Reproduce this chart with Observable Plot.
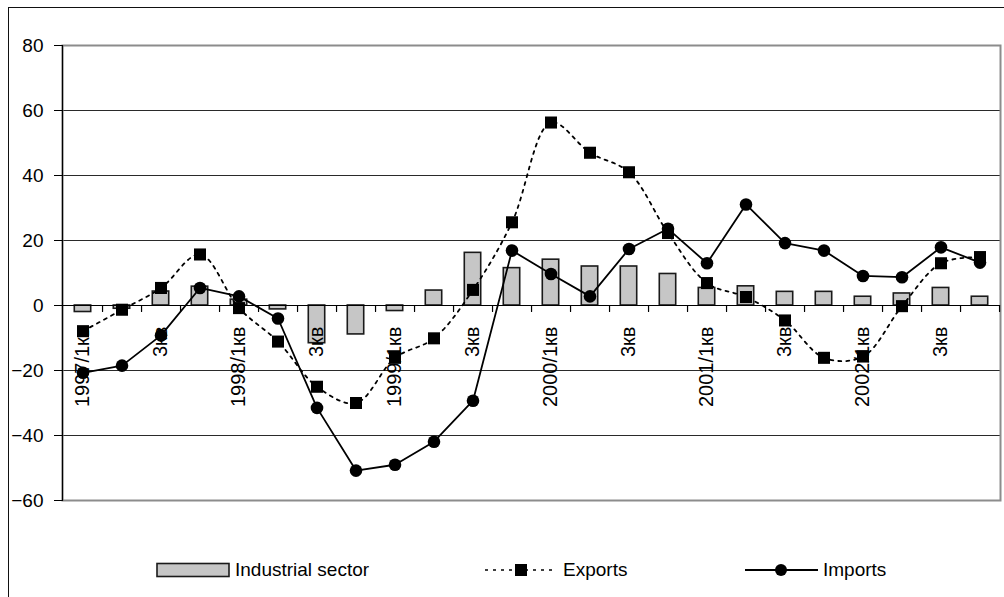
<!DOCTYPE html>
<html>
<head>
<meta charset="utf-8">
<script src="https://cdn.jsdelivr.net/npm/d3@7"></script>
<script src="https://cdn.jsdelivr.net/npm/@observablehq/plot@0.6"></script>
<style>
  html, body { margin: 0; padding: 0; background: #fff; }
  #wrap { position: relative; width: 1004px; height: 597px; overflow: hidden; font-family: "Liberation Sans", Arial, sans-serif; }
  #frame { position: absolute; left: 8px; top: 7px; width: 1100px; height: 700px; border-left: 1.5px solid #111; border-top: 1.5px solid #111; }
  #chart { position: absolute; left: 0; top: 0; }
  #legend { position: absolute; left: 0; top: 530px; }
</style>
</head>
<body>
<div id="wrap">
  <div id="frame"></div>
  <div id="chart"></div>
  <div id="legend"></div>
</div>
<script>
// Quarterly growth rates, % year on year
const quarters = [
  "1997/1кв", "1997/2кв", "1997/3кв", "1997/4кв",
  "1998/1кв", "1998/2кв", "1998/3кв", "1998/4кв",
  "1999/1кв", "1999/2кв", "1999/3кв", "1999/4кв",
  "2000/1кв", "2000/2кв", "2000/3кв", "2000/4кв",
  "2001/1кв", "2001/2кв", "2001/3кв", "2001/4кв",
  "2002/1кв", "2002/2кв", "2002/3кв", "2002/4кв"
];
const industrial = [-2.0, -1.0, 4.3, 5.8, 1.8, -1.2, -11.6, -8.9, -1.7, 4.6, 16.2, 11.5,
                    14.1, 12.0, 12.0, 9.7, 5.4, 5.9, 4.2, 4.2, 2.7, 3.7, 5.4, 2.7];
const exportsGrowth = [-7.9, -1.3, 5.4, 15.7, -0.8, -11.1, -25.0, -30.0, -16.1, -10.1, 4.8, 25.6,
                       56.3, 47.0, 41.0, 22.3, 6.9, 2.6, -4.6, -16.1, -15.7, -0.2, 13.0, 14.9];
const importsGrowth = [-20.7, -18.5, -9.2, 5.4, 2.8, -4.0, -31.5, -50.8, -49.0, -41.9, -29.3, 16.9,
                       9.7, 2.8, 17.4, 23.6, 13.0, 31.1, 19.2, 16.9, 9.1, 8.7, 17.9, 13.2];

// Axis labels: every second quarter is labelled
const labelQuarters = ["1997/1кв", "1997/3кв", "1998/1кв", "1998/3кв", "1999/1кв", "1999/3кв",
                       "2000/1кв", "2000/3кв", "2001/1кв", "2001/3кв", "2002/1кв", "2002/3кв"];
const tickLabels = ["1997/1кв", "3кв", "1998/1кв", "3кв", "1999/1кв", "3кв",
                    "2000/1кв", "3кв", "2001/1кв", "3кв", "2002/1кв", "3кв"];
const yTicks = [-60, -40, -20, 0, 20, 40, 60, 80];
const gridValues = [-40, -20, 20, 40, 60];

const seriesNames = ["Industrial sector", "Exports", "Imports"];

const rows = quarters.map((q, i) => ({
  q,
  industrial: industrial[i],
  exports: exportsGrowth[i],
  imports: importsGrowth[i]
}));

const width = 1004, height = 530;
const marginLeft = 62, marginRight = 4, marginTop = 45, marginBottom = 30;
const step = (width - marginLeft - marginRight) / quarters.length;
const barWidth = 16.5;
const barInset = (step - barWidth) / 2;

const tickShape = {
  draw(context, l) { context.moveTo(0, 0); context.lineTo(0, -l); }
};

const chart = Plot.plot({
  width, height, marginLeft, marginRight, marginTop, marginBottom,
  style: { fontFamily: "'Liberation Sans', Arial, sans-serif", color: "#000", background: "transparent" },
  x: { type: "band", domain: quarters, padding: 0, axis: null },
  y: { domain: [-60, 80], axis: null },
  marks: [
    Plot.ruleY(gridValues, { stroke: "#2a2a2a", strokeWidth: 1 }),
    Plot.frame({ stroke: "#8c8c8c", strokeWidth: 2 }),
    Plot.frame({ anchor: "left", stroke: "#000", strokeWidth: 1.2 }),
    Plot.axisY({ ticks: yTicks, tickSize: 8, tickPadding: 11, fontSize: 19, label: null, stroke: "#000" }),
    Plot.barY(rows, {
      x: "q", y: "industrial", fill: "#c6c6c6", stroke: "#1a1a1a", strokeWidth: 1.6,
      insetLeft: barInset, insetRight: barInset
    }),
    Plot.ruleY([0], { stroke: "#000", strokeWidth: 1.2 }),
    Plot.vector(quarters, {
      x: d => d, y: 0, length: 6, rotate: 180, anchor: "start",
      shape: tickShape, stroke: "#000", strokeWidth: 1.2, dx: step / 2
    }),
    Plot.text(labelQuarters, {
      x: d => d, y: 0, text: (d, i) => tickLabels[i], rotate: -90,
      textAnchor: "end", lineAnchor: "middle", dy: 21, fontSize: 20, fill: "#000"
    }),
    Plot.line(rows, {
      x: "q", y: "exports", curve: "catmull-rom", stroke: "#000",
      strokeWidth: 1.8, strokeDasharray: "3,5"
    }),
    Plot.line(rows, { x: "q", y: "imports", stroke: "#000", strokeWidth: 1.8 }),
    Plot.dot(rows, { x: "q", y: "exports", symbol: "square", r: 6.8, fill: "#000", stroke: null }),
    Plot.dot(rows, { x: "q", y: "imports", symbol: "circle", r: 6.3, fill: "#000", stroke: null })
  ]
});
document.getElementById("chart").appendChild(chart);

// Legend below the plot
const lg = d3.select("#legend").append("svg")
  .attr("width", width).attr("height", 67)
  .style("font-family", "'Liberation Sans', Arial, sans-serif")
  .style("font-size", "19px");
const cy = 40, base = 45.5;

lg.append("rect").attr("x", 157).attr("y", cy - 6.5).attr("width", 72).attr("height", 13)
  .attr("fill", "#c6c6c6").attr("stroke", "#1a1a1a").attr("stroke-width", 1.6);
lg.append("text").attr("x", 235).attr("y", base).text(seriesNames[0]);

lg.append("line").attr("x1", 485).attr("x2", 553).attr("y1", cy).attr("y2", cy)
  .attr("stroke", "#000").attr("stroke-width", 1.6).attr("stroke-dasharray", "3,5");
lg.append("rect").attr("x", 515).attr("y", cy - 6).attr("width", 12).attr("height", 12).attr("fill", "#000");
lg.append("text").attr("x", 563).attr("y", base).text(seriesNames[1]);

lg.append("line").attr("x1", 745).attr("x2", 818).attr("y1", cy).attr("y2", cy)
  .attr("stroke", "#000").attr("stroke-width", 1.8);
lg.append("circle").attr("cx", 781).attr("cy", cy).attr("r", 6).attr("fill", "#000");
lg.append("text").attr("x", 823).attr("y", base).text(seriesNames[2]);
</script>
</body>
</html>
